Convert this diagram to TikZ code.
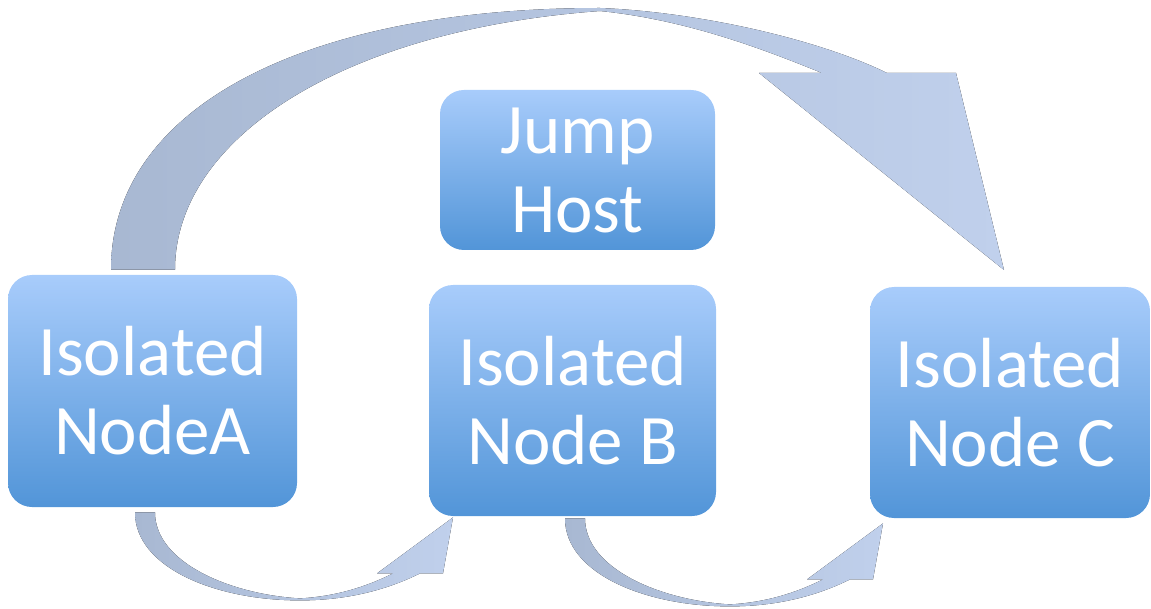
\documentclass[tikz,border=0pt]{standalone}
\usepackage{fontspec}
\setmainfont{Carlito}
\definecolor{boxtop}{RGB}{168,204,251}
\definecolor{boxbot}{RGB}{82,149,216}
\definecolor{arrdark}{RGB}{168,184,210}
\definecolor{arrlight}{RGB}{192,208,236}
\usetikzlibrary{calc}

\begin{document}
\begin{tikzpicture}[x=0.5pt, y=-0.5pt,
    hostbox/.style={rectangle, rounded corners=12pt, top color=boxtop, bottom color=boxbot,
      text=white, align=center, inner sep=0pt, font=\fontsize{35.5pt}{39.5pt}\selectfont},
    swoop/.style={left color=arrdark, right color=arrlight},
    smallswoop/.pic={
      \fill [swoop] (0,0) .. controls (0,55) and (80,88) .. (165,88)
        .. controls (215,88) and (255,76) .. (285,61)
        -- (308,61) -- (318,5) -- (242,61) -- (258,61)
        .. controls (230,75) and (200,84) .. (165,86)
        .. controls (95,82) and (20,50) .. (20,0) -- cycle;
    }]
    \useasboundingbox (0,0) rectangle (1151,609);
    \node [hostbox, minimum width=144.5pt, minimum height=116pt] (na) at (152.5,391) {Isolated\\NodeA};
    \node [hostbox, minimum width=143.5pt, minimum height=115.5pt] (nb) at (572.5,400.5) {Isolated\\Node B};
    \node [hostbox, minimum width=140pt, minimum height=115.5pt] (nc) at (1010,402.5) {Isolated\\Node C};
    \node [hostbox, minimum width=137.5pt, minimum height=80pt] (jh) at (577.5,170) {Jump\\Host};
    % big arrow A -> C over the top
    \fill [swoop] ($(na.north)+(-41.5,-5)$) .. controls (111,110) and (300,8) .. (600,8)
      .. controls (700,12) and (820,40) .. (887,73)
      -- (956,73) -- (1004,270) -- (759,73) -- (822,73)
      .. controls (770,52) and (690,20) .. (600,11)
      .. controls (340,30) and (175,140) .. ($(na.north)+(22.5,-5)$) -- cycle;
    % small arrows underneath
    \pic at ($(na.south)+(-17.5,5)$) {smallswoop};
    \pic at ($(nb.south)+(-7.5,2)$) {smallswoop};
\end{tikzpicture}
\end{document}
